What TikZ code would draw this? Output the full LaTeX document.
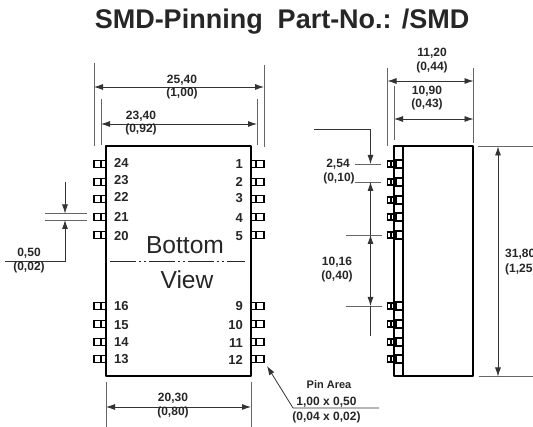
\documentclass[tikz,border=0pt]{standalone}
\usepackage{fontspec}
\setmainfont{Liberation Sans}
\usetikzlibrary{arrows.meta}
\tikzset{
    dimline/.style={line width=0.8pt, color=black!80, {Latex[length=9pt,width=6pt]}-{Latex[length=9pt,width=6pt]}},
    dimtip/.style={line width=0.8pt, color=black!80, -{Latex[length=9pt,width=6pt]}},
    extline/.style={line width=0.9pt, color=black!60},
    outline/.style={line width=2pt, black, line join=round},
    pinbox/.style={line width=1.5pt, black},
    dimlabel/.style={inner sep=0pt, font=\fontsize{12}{12}\selectfont\bfseries, text=black!85},
    pinlabel/.style={inner sep=0pt, font=\fontsize{13}{13}\selectfont\bfseries, text=black!85}
}
\begin{document}
\begin{tikzpicture}[x=1pt, y=-1pt]
        \useasboundingbox (0,0) rectangle (533,427);

        \node[inner sep=0pt, font=\fontsize{27}{27}\selectfont\bfseries, text=black!85] (title) at (282,22) {SMD-Pinning\ \ Part-No.: /SMD};

        % front view
        \draw[outline] (106,146) rectangle (251,376);
        \foreach \y in {164,182,199,217,235,306,324,342,359} {
            \draw[pinbox] (106,\y-3.5) -- (94,\y-3.5) -- (94,\y+3.5) -- (106,\y+3.5);
            \draw[pinbox] (101,\y-3.5) -- (101,\y+3.5);
            \draw[pinbox] (251,\y-3.5) -- (264,\y-3.5) -- (264,\y+3.5) -- (251,\y+3.5);
            \draw[pinbox] (256,\y-3.5) -- (256,\y+3.5);
        }
        \foreach \n/\y in {24/163,23/180,22/197,21/217,20/236,16/306,15/325,14/342,13/359} {
            \node[pinlabel, anchor=west] (pin\n) at (114,\y) {\n};
        }
        \foreach \n/\y in {1/164,2/182,3/198,4/218,5/236,9/306,10/325,11/343,12/360} {
            \node[pinlabel, anchor=east] (pin\n) at (243,\y) {\n};
        }
        \draw[line width=0.9pt, black!85, dash pattern=on 26pt off 3pt on 2pt off 3pt on 2pt off 3pt] (110,261.5) -- (245,261.5);
        \node[inner sep=0pt, font=\fontsize{24.6}{25}\selectfont, text=black!85] (bottom) at (185,245) {Bottom};
        \node[inner sep=0pt, font=\fontsize{24.6}{25}\selectfont, text=black!85] (view) at (187,280) {View};

        % front view, dimensions
        \draw[extline] (94,63) -- (94,146);
        \draw[extline] (264,65) -- (264,147);
        \draw[dimline] (94,87) -- (264,87);
        \node[dimlabel] (widthmm) at (182,80) {25,40};
        \node[dimlabel] (widthin) at (182,93) {(1,00)};

        \draw[extline] (101,99) -- (101,145);
        \draw[extline] (257,99) -- (257,145);
        \draw[dimline] (101,124) -- (257,124);
        \node[dimlabel] (innermm) at (141,116) {23,40};
        \node[dimlabel] (innerin) at (141,129) {(0,92)};

        \draw[extline] (106,382) -- (106,427);
        \draw[extline] (251,382) -- (251,427);
        \draw[dimline] (106,407) -- (251,407);
        \node[dimlabel] (bodymm) at (173,398) {20,30};
        \node[dimlabel] (bodyin) at (173,412) {(0,80)};

        \draw[extline] (45,213.5) -- (87,213.5);
        \draw[extline] (45,220) -- (87,220);
        \draw[dimtip] (65,182) -- (65,213.5);
        \draw[dimtip] (5,261.5) -- (65,261.5) -- (65,220);
        \node[dimlabel] (pinwmm) at (29,253) {0,50};
        \node[dimlabel] (pinwin) at (29,267) {(0,02)};

        % side view
        \draw[outline] (394,146) rectangle (473,376);
        \draw[outline] (403,146) -- (403,376);
        \foreach \y in {164,182,200,217,235,306,324,342,359} {
            \draw[pinbox] (396,\y-4) rectangle (403,\y+4);
            \draw[pinbox] (387.5,\y-3) rectangle (394,\y+3);
            \draw[pinbox] (391,\y-3) -- (391,\y+3);
        }

        % side view, dimensions
        \draw[extline] (387.5,68) -- (387.5,146);
        \draw[extline] (473.5,68) -- (473.5,143);
        \draw[dimline] (387.5,81) -- (473.5,81);
        \node[dimlabel] (depthmm) at (432,53) {11,20};
        \node[dimlabel] (depthin) at (432,67) {(0,44)};

        \draw[extline] (394,86) -- (394,140);
        \draw[dimline] (394,119) -- (473.5,119);
        \node[dimlabel] (casemm) at (427,91) {10,90};
        \node[dimlabel] (casein) at (427,104) {(0,43)};

        \draw[extline] (478,146.5) -- (533,146.5);
        \draw[extline] (479,376.5) -- (533,376.5);
        \draw[dimline] (498,146.5) -- (498,376.5);
        \node[dimlabel, anchor=west] (heightmm) at (505,254) {31,80};
        \node[dimlabel, anchor=west] (heightin) at (505,269) {(1,25)};

        \draw[extline] (355,164) -- (381,164);
        \draw[extline] (355,182) -- (381,182);
        \draw[extline] (346,235) -- (382,235);
        \draw[extline] (346,306) -- (382,306);
        \draw[dimtip] (314,129) -- (370.5,129) -- (370.5,164);
        \draw[dimtip] (370.5,235) -- (370.5,182);
        \draw[dimline] (370.5,235) -- (370.5,306);
        \draw[line width=0.8pt, black!80] (370.5,306) -- (370.5,336);
        \node[dimlabel] (pitchmm) at (338,164) {2,54};
        \node[dimlabel] (pitchin) at (339,178) {(0,10)};
        \node[dimlabel] (spanmm) at (337,262) {10,16};
        \node[dimlabel] (spanin) at (337,276) {(0,40)};

        % pin area
        \draw[line width=0.8pt, black!80, {Latex[length=9pt,width=6pt]}-] (267,366) -- (293,408) -- (379,408);
        \node[inner sep=0pt, font=\fontsize{11}{11}\selectfont\bfseries, text=black!85] (pinarea) at (329,385) {Pin Area};
        \node[inner sep=0pt, font=\fontsize{12}{12}\selectfont\bfseries, text=black!85] (pinmm) at (326.5,402) {1,00 x 0,50};
        \node[inner sep=0pt, font=\fontsize{12}{12}\selectfont\bfseries, text=black!85] (pinin) at (326.5,417) {(0,04 x 0,02)};
    \end{tikzpicture}
\end{document}
